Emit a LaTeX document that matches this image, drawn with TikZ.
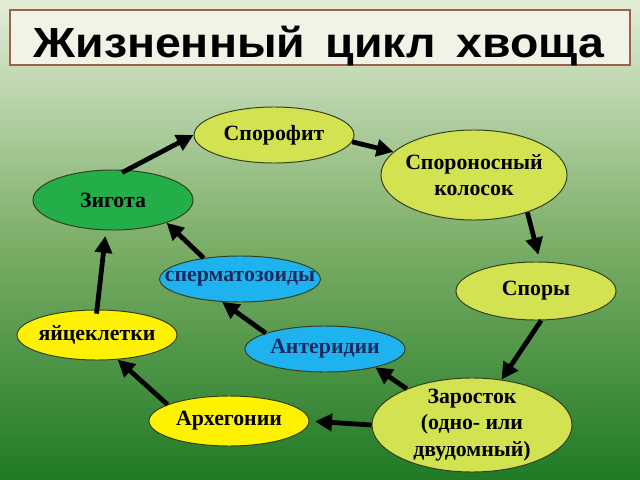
\documentclass[tikz,border=0pt]{standalone}
\usepackage{fontspec}
\setmainfont{Liberation Serif}
\newfontfamily\titlefont[FakeStretch=1.1,WordSpace=1.6]{Liberation Sans}
\usetikzlibrary{arrows.meta,shapes.geometric}
\definecolor{bgtop}{HTML}{E2EDD8}
\definecolor{bgmid}{HTML}{7DAF68}
\definecolor{bgbot}{HTML}{1F7A25}
\definecolor{lime}{HTML}{D2E250}
\definecolor{leaf}{HTML}{24AE4A}
\definecolor{sky}{HTML}{1EB2EE}
\definecolor{sun}{HTML}{FFF200}
\definecolor{rim}{HTML}{34401C}
\definecolor{navy}{HTML}{1B2A5C}
\definecolor{brick}{HTML}{A0604A}
\definecolor{paper}{HTML}{F1F3E6}

\tikzset{
  stage/.style={ellipse,draw=rim,line width=.7pt,inner sep=0pt,align=center,
    font=\fontsize{15.5}{19}\selectfont\bfseries},
  flow/.style={-{Triangle[length=12pt,width=12pt]},line width=3.4pt,black}
}

\begin{document}
\begin{tikzpicture}[x=0.025cm,y=-0.025cm]
  \useasboundingbox (0,0) rectangle (640,480);
  \fill[top color=bgtop,bottom color=bgbot,middle color=bgmid] (0,0) rectangle (640,480);
  \draw[brick,fill=paper,line width=.9pt] (10,10) rectangle (630,65);
  \node[anchor=base,inner sep=0pt,font=\titlefont\fontsize{30}{34}\selectfont\bfseries] (title) at (319,57) {Жизненный цикл хвоща};

  % спорофит
  \node[stage,fill=lime,minimum width=4cm,minimum height=1.4cm] (spor) at (274,135) {Спорофит};
  \node[stage,fill=lime,minimum width=4.65cm,minimum height=2.25cm,inner xsep=-3pt] (kol) at (474,175) {Спороносный\\колосок};
  \node[stage,fill=lime,minimum width=4cm,minimum height=1.45cm] (spory) at (536,291) {Споры};
  % гаметофит
  \node[stage,fill=lime,minimum width=5cm,minimum height=2.35cm,inner ysep=-5pt] (zar) at (472,425) {Заросток\\(одно- или\\двудомный)};
  \node[stage,fill=sky,text=navy,minimum width=4cm,minimum height=1.15cm] (anter) at (325,349) {Антеридии};
  \node[stage,fill=sun,minimum width=4cm,minimum height=1.25cm] (arch) at (229,421) {Архегонии};
  \node[stage,fill=sun,minimum width=4cm,minimum height=1.25cm,inner xsep=-3pt] (yaic) at (97,335) {яйцеклетки};
  \node[stage,fill=sky,text=navy,minimum width=4cm,minimum height=1.15cm,inner xsep=-13pt] (sperm) at (240,279) {сперматозоиды};
  \node[stage,fill=leaf,minimum width=4cm,minimum height=1.5cm] (zig) at (113,200) {Зигота};

  \draw[flow,shorten <=-4pt] (zig.65) -- (spor.180);
  \draw[flow] (spor.-5) -- (kol.164);
  \draw[flow,shorten >=5pt] (kol.-35) -- (spory.82);
  \draw[flow] (spory.-80) -- (zar.57);
  \draw[flow] (zar.151) -- (anter.-20);
  \draw[flow,shorten >=4pt] (zar.west) -- (arch.east);
  \draw[flow] (anter.165) -- (sperm.-128);
  \draw[flow] (sperm.150) -- (zig.-23);
  \draw[flow] (arch.165) -- (yaic.-50);
  \draw[flow,shorten <=-3pt,shorten >=4pt] (yaic.north) -- (zig.-103);
\end{tikzpicture}
\end{document}
